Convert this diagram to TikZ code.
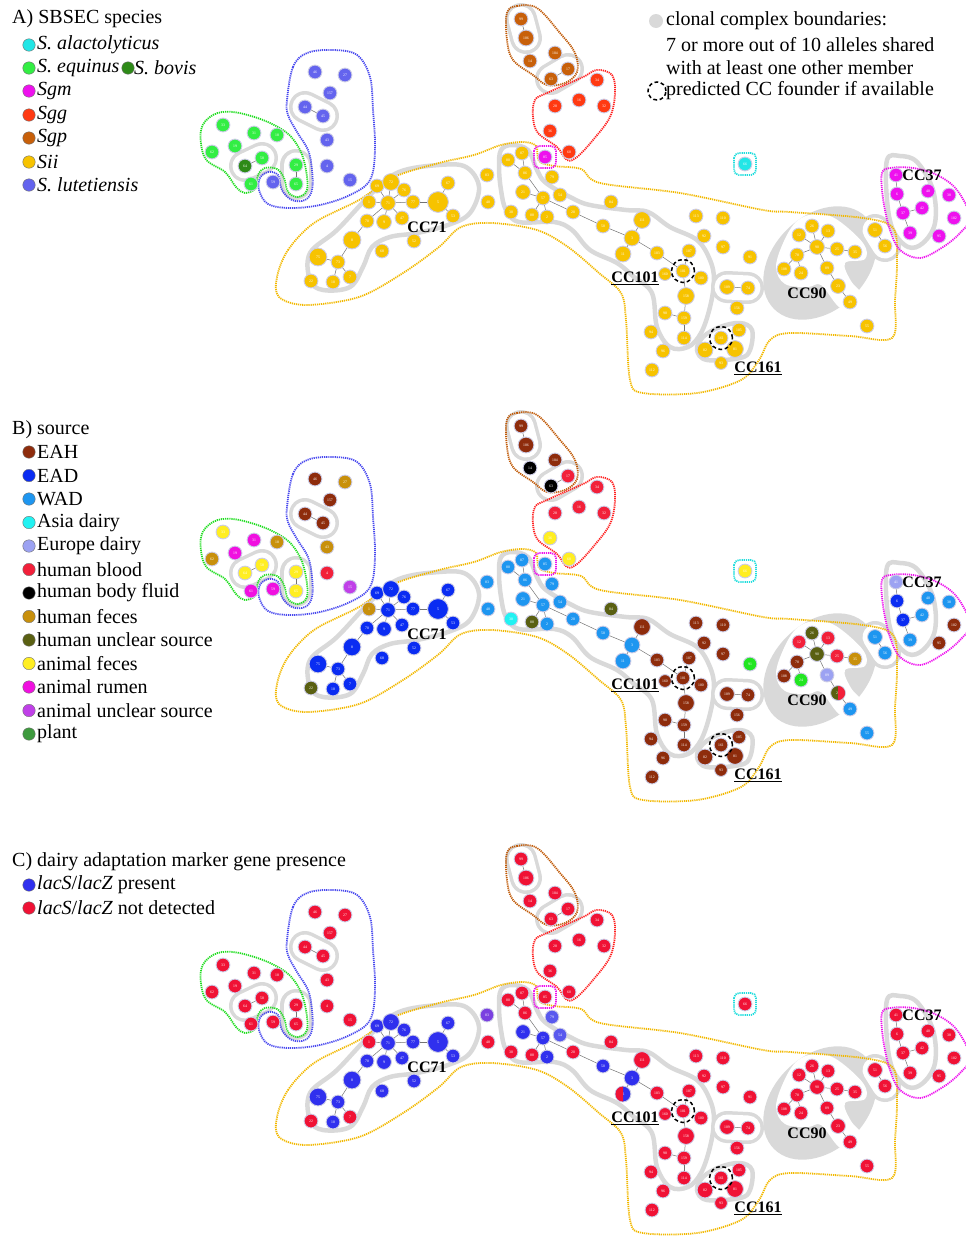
\documentclass[tikz,border=0pt]{standalone}
\usepackage{fontspec}
\setmainfont{Liberation Serif}
\usetikzlibrary{backgrounds}
% species colours
\definecolor{Sal}{HTML}{22E6E6}
\definecolor{Seq}{HTML}{33EE44}
\definecolor{Sbo}{HTML}{2E8A18}
\definecolor{Sgm}{HTML}{EE11EE}
\definecolor{Sgg}{HTML}{FF3A12}
\definecolor{Sgp}{HTML}{C8600A}
\definecolor{Sii}{HTML}{F7C300}
\definecolor{Slu}{HTML}{6464EE}
% source colours
\definecolor{EAH}{HTML}{8E2C0C}
\definecolor{EAD}{HTML}{0A2CF2}
\definecolor{WAD}{HTML}{1E96F0}
\definecolor{ASD}{HTML}{22F2F2}
\definecolor{EUD}{HTML}{9CA2F2}
\definecolor{HBL}{HTML}{F2203A}
\definecolor{HBF}{HTML}{000000}
\definecolor{HFE}{HTML}{C8900C}
\definecolor{HUN}{HTML}{5A6012}
\definecolor{AFE}{HTML}{FFEE22}
\definecolor{ARU}{HTML}{F010E0}
\definecolor{AUN}{HTML}{C040E8}
\definecolor{PLA}{HTML}{3E9A3E}
\definecolor{BGR}{HTML}{22E622}
% lacS colours
\definecolor{PRE}{HTML}{3030EE}
\definecolor{PRL}{HTML}{5858EE}
\definecolor{PUR}{HTML}{7A40E0}
\definecolor{NDT}{HTML}{F01235}
% outlines
\definecolor{oGr}{HTML}{22DD22}
\definecolor{oBl}{HTML}{4848EE}
\definecolor{oBr}{HTML}{C05A08}
\definecolor{oRd}{HTML}{FF2222}
\definecolor{oYe}{HTML}{F2B800}
\definecolor{oMa}{HTML}{EE11EE}
\definecolor{oCy}{HTML}{22DDDD}
\definecolor{ringc}{HTML}{D9D9D9}
\definecolor{ndb}{HTML}{CCCCE6}

\tikzset{
  nd/.style={circle, draw=ndb, line width=0.9pt, inner sep=0pt, text=white,
    font=\fontsize{3.8}{3.8}\selectfont},
  edge/.style={draw=black!55, line width=0.5pt},
  outl/.style={line width=1.8pt, dash pattern=on 1.2pt off 0.9pt},
  ring/.style={draw=ringc, line width=4.5pt},
  founder/.style={circle, draw=black, line width=1.5pt, dash pattern=on 3.8pt off 2.6pt,
    minimum size=23pt, inner sep=0pt},
  cclab/.style={font=\fontsize{16}{16}\selectfont\bfseries, inner sep=0pt},
  leg/.style={anchor=west, font=\fontsize{20}{20}\selectfont, inner sep=0pt},
  legc/.style={circle, draw=black!55, line width=0.4pt, minimum size=12.5pt, inner sep=0pt},
}

\newcount\pnl
\newcommand\ND[7]{%
  \ifcase\pnl\or\def\ncol{#5}\or\def\ncol{#6}\else\def\ncol{#7}\fi
  \node[nd, minimum size={2*#4pt+0.8pt}, fill=\ncol] (p\the\pnl-#1) at (#2,#3) {#1};}
\newcommand\caps[4]{%
  \draw[ringc, line width=32pt, line cap=round] (#1,#2) -- (#3,#4);
  \draw[white, line width=25pt, line cap=round] (#1,#2) -- (#3,#4);}

\newcommand\allblobs{%
  \fill[ringc, rotate around={45:(820,263)}] (820,263) ellipse [x radius=65, y radius=47];
  \fill[white] plot[smooth cycle, tension=0.6] coordinates {(797,221) (815,214) (836,219) (863,243) (865,259) (845,263) (851,281) (864,297) (857,313) (839,307) (821,285) (808,287) (785,284) (776,267) (784,241)};
  \draw[ring] plot[smooth cycle, tension=0.6] coordinates {(310,253) (337,230) (372,193) (399,172) (439,165) (466,167) (479,187) (470,213) (448,225) (417,233) (390,237) (372,247) (363,267) (350,287) (323,290) (310,280)};
  \draw[ring] plot[smooth cycle, tension=0.6] coordinates {(501,150) (512,145) (528,150) (537,170) (546,183) (572,198) (590,205) (626,210) (648,212) (670,227) (697,240) (710,260) (714,280) (710,307) (701,333) (688,347) (670,347) (657,327) (652,293) (634,277) (617,263) (590,250) (572,230) (554,222) (519,222) (506,210) (501,190) (499,167)};
  \draw[ring] plot[smooth cycle, tension=0.6] coordinates {(697,350) (703,337) (720,327) (740,323) (752,330) (750,350) (740,358) (707,360)};
  \draw[ring] plot[smooth cycle, tension=0.6] coordinates {(887,160) (900,156) (917,162) (933,190) (935,223) (923,243) (908,247) (893,230) (887,200)};
  \caps{305}{107}{323}{116}
  \caps{262}{158}{245}{166}
  \caps{296}{165}{296}{184}
  \caps{521}{19}{526}{38}
  \caps{551}{79}{568}{69}
  \caps{875}{230}{885}{246}
  \caps{727}{287}{748}{288}
}

\newcommand\alloutlines{%
  \draw[outl, oGr] plot[smooth cycle, tension=0.6] coordinates {(201,130) (213,115) (233,112) (263,120) (287,133) (300,150) (306,170) (307,190) (298,197) (288,192) (284,178) (277,169) (265,168) (258,175) (256,188) (245,193) (236,187) (225,172) (205,158)};
  \draw[outl, oBl] plot[smooth cycle, tension=0.6] coordinates {(287,100) (293,67) (307,53) (333,50) (357,55) (370,77) (373,110) (375,150) (370,180) (350,195) (320,205) (290,208) (268,204) (259,190) (260,178) (268,172) (278,175) (282,190) (292,200) (305,200) (312,190) (312,170) (308,150) (297,132) (288,115)};
  \draw[outl, oBr] plot[smooth cycle, tension=0.6] coordinates {(507,13) (517,6) (537,8) (560,33) (575,53) (577,72) (565,83) (547,85) (533,75) (513,60) (507,40)};
  \draw[outl, oRd] plot[smooth cycle, tension=0.6] coordinates {(535,100) (547,93) (583,77) (597,70) (612,75) (615,93) (610,117) (593,140) (577,157) (567,160) (557,147) (538,133) (533,117)};
  \draw[outl, oYe] plot[smooth cycle, tension=0.55] coordinates {(277,277) (288,250) (314,223) (359,200) (394,177) (439,163) (474,155) (501,145) (523,142) (536,146) (539,161) (554,166) (581,169) (600,183) (680,193) (763,210) (790,212) (863,218) (893,228) (897,260) (895,300) (892,338) (850,336) (790,333) (770,340) (759,360) (741,380) (697,393) (643,393) (630,380) (626,320) (621,293) (599,273) (568,247) (537,230) (492,223) (461,227) (439,247) (403,273) (359,297) (306,305) (279,297)};
  \draw[outl, oMa] plot[smooth cycle, tension=0.6] coordinates {(882,173) (890,168) (913,168) (937,175) (957,190) (970,217) (960,233) (943,247) (920,258) (900,250) (890,230) (885,210) (882,190)};
  \draw[outl, oMa, rounded corners=5pt] (534,146) rectangle (556,168);
  \draw[outl, oCy, rounded corners=5pt] (734,153) rectangle (756,175);
}

\newcommand\allnodes{%
  % S. equinus / S. bovis group
  \ND{33}{223}{125}{6.5}{Seq}{AFE}{NDT}
  \ND{31}{254}{133}{6.5}{Seq}{ARU}{NDT}
  \ND{18}{277}{135}{6.5}{Seq}{HFE}{NDT}
  \ND{19}{235}{146}{6.5}{Seq}{ARU}{NDT}
  \ND{62}{212}{152}{6.5}{Seq}{HFE}{NDT}
  \ND{58}{262}{158}{6.5}{Seq}{AFE}{NDT}
  \ND{64}{245}{166}{6.5}{Sbo}{AFE}{NDT}
  \ND{29}{296}{165}{6.5}{Seq}{AFE}{NDT}
  \ND{61}{251}{184}{6.5}{Seq}{ARU}{NDT}
  \ND{59}{273}{182}{6.5}{Slu}{ARU}{NDT}
  \ND{65}{296}{184}{6.5}{Seq}{AFE}{NDT}
  % S. lutetiensis group
  \ND{46}{315}{72}{6.5}{Slu}{EAH}{NDT}
  \ND{27}{345}{75}{6.5}{Slu}{HFE}{NDT}
  \ND{157}{330}{93}{6.5}{Slu}{EAH}{NDT}
  \ND{44}{305}{107}{6.5}{Slu}{EAH}{NDT}
  \ND{45}{323}{116}{6.5}{Slu}{EAH}{NDT}
  \ND{43}{327}{140}{6.5}{Slu}{HFE}{NDT}
  \ND{4}{327}{166}{6.5}{Slu}{HBL}{NDT}
  \ND{15}{350}{180}{6.5}{Slu}{AUN}{NDT}
  % Sgp
  \ND{99}{521}{19}{6.5}{Sgp}{EAH}{NDT}
  \ND{106}{526}{38}{7.5}{Sgp}{EAH}{NDT}
  \ND{14}{530}{61}{6.5}{Sgp}{HBF}{NDT}
  \ND{104}{555}{53}{6.5}{Sgp}{EAH}{NDT}
  \ND{17}{568}{69}{6.5}{Sgp}{HBL}{NDT}
  \ND{63}{551}{79}{6.5}{Sgp}{HBF}{NDT}
  % Sgg
  \ND{34}{597}{80}{6.5}{Sgg}{HBL}{NDT}
  \ND{28}{555}{106}{6.5}{Sgg}{HBL}{NDT}
  \ND{16}{579}{100}{6.5}{Sgg}{HBL}{NDT}
  \ND{32}{604}{106}{6.5}{Sgg}{HBL}{NDT}
  \ND{36}{550}{131}{6.5}{Sgg}{AFE}{NDT}
  \ND{60}{569}{152}{6.5}{Sgg}{AFE}{NDT}
  \ND{85}{545}{157}{6.5}{Sgm}{WAD}{NDT}
  \ND{66}{745}{164}{6.5}{Sal}{AFE}{NDT}
  % CC71
  \ND{69}{377}{186}{6.5}{Sii}{EAD}{PRE}
  \ND{72}{391}{182}{8}{Sii}{EAD}{PRE}
  \ND{76}{404}{190}{6.5}{Sii}{EAD}{PRE}
  \ND{1}{369}{202}{6.5}{Sii}{HFE}{NDT}
  \ND{71}{388}{203}{7}{Sii}{EAD}{PRE}
  \ND{77}{413}{202}{6.5}{Sii}{EAD}{PRE}
  \ND{5}{438}{202}{10}{Sii}{EAD}{PRE}
  \ND{67}{448}{183}{6.5}{Sii}{EAD}{PRE}
  \ND{53}{453}{216}{6.5}{Sii}{EAD}{PRE}
  \ND{70}{367}{221}{6.5}{Sii}{EAD}{PRE}
  \ND{9}{384}{222}{7}{Sii}{EAD}{PRE}
  \ND{47}{402}{218}{6.5}{Sii}{EAD}{PRE}
  \ND{8}{352}{240}{8.5}{Sii}{EAD}{PRE}
  \ND{52}{414}{241}{6.5}{Sii}{EAD}{PRE}
  \ND{68}{382}{251}{6.5}{Sii}{EAD}{PRE}
  \ND{75}{318}{257}{8.5}{Sii}{EAD}{PRE}
  \ND{73}{338}{262}{6.5}{Sii}{EAD}{PRE}
  \ND{7}{350}{277}{6.5}{Sii}{EAD}{NDT}
  \ND{10}{333}{282}{6.5}{Sii}{EAD}{PRE}
  \ND{22}{311}{281}{6.5}{Sii}{HUN}{NDT}
  % middle
  \ND{83}{487}{175}{6.5}{Sii}{WAD}{PUR}
  \ND{48}{488}{202}{6.5}{Sii}{WAD}{NDT}
  \ND{30}{511}{212}{6.5}{Sii}{ASD}{NDT}
  \ND{80}{508}{160}{6.5}{Sii}{WAD}{NDT}
  \ND{87}{522}{153}{6.5}{Sii}{WAD}{NDT}
  \ND{86}{525}{173}{6.5}{Sii}{WAD}{NDT}
  \ND{79}{552}{177}{6.5}{Sii}{WAD}{PRL}
  \ND{21}{523}{192}{7}{Sii}{WAD}{PRE}
  \ND{57}{543}{198}{6.5}{Sii}{WAD}{PRE}
  \ND{54}{560}{195}{6.5}{Sii}{WAD}{PRL}
  \ND{88}{532}{215}{6.5}{Sii}{HUN}{NDT}
  \ND{2}{547}{217}{6.5}{Sii}{WAD}{PRE}
  \ND{20}{573}{212}{6.5}{Sii}{WAD}{NDT}
  \ND{84}{611}{202}{6.5}{Sii}{HUN}{NDT}
  \ND{50}{603}{226}{6.5}{Sii}{WAD}{PRE}
  % CC101 area
  \ND{111}{642}{220}{8}{Sii}{EAH}{NDT}
  \ND{3}{632}{238}{7.5}{Sii}{WAD}{PRE}
  \ND{11}{623}{254}{7.5}{Sii}{WAD}{PRE}
  \ND{103}{657}{253}{6.5}{Sii}{EAH}{NDT}
  \ND{113}{696}{216}{6.5}{Sii}{EAH}{NDT}
  \ND{110}{723}{218}{6.5}{Sii}{EAH}{NDT}
  \ND{92}{704}{236}{6.5}{Sii}{EAH}{NDT}
  \ND{97}{723}{247}{6.5}{Sii}{EAH}{NDT}
  \ND{91}{750}{257}{6.5}{Sii}{BGR}{NDT}
  \ND{107}{689}{251}{6.5}{Sii}{EAH}{NDT}
  \ND{101}{683}{271}{6.5}{Sii}{EAH}{NDT}
  \ND{160}{665}{274}{6}{Sii}{EAH}{NDT}
  \ND{100}{701}{278}{6.5}{Sii}{EAH}{NDT}
  \ND{158}{686}{296}{8}{Sii}{EAH}{NDT}
  \ND{98}{665}{313}{6.5}{Sii}{EAH}{NDT}
  \ND{159}{684}{318}{6.5}{Sii}{EAH}{NDT}
  \ND{114}{684}{338}{6.5}{Sii}{EAH}{NDT}
  \ND{94}{651}{332}{6.5}{Sii}{EAH}{NDT}
  \ND{96}{663}{351}{6.5}{Sii}{EAH}{NDT}
  \ND{112}{652}{370}{6.5}{Sii}{EAH}{NDT}
  \ND{109}{727}{287}{7}{Sii}{EAH}{NDT}
  \ND{74}{748}{288}{6.5}{Sii}{EAH}{NDT}
  \ND{156}{737}{308}{6.5}{Sii}{EAH}{NDT}
  \ND{161}{721}{338}{6.5}{Sii}{EAH}{NDT}
  \ND{105}{739}{330}{6.5}{Sii}{EAH}{NDT}
  \ND{82}{705}{350}{7.5}{Sii}{EAH}{NDT}
  \ND{81}{735}{349}{8}{Sii}{EAH}{NDT}
  \ND{93}{721}{363}{6}{Sii}{EAH}{NDT}
  % CC90
  \ND{26}{812}{226}{6.5}{Sii}{HUN}{NDT}
  \ND{13}{828}{231}{6.5}{Sii}{HBL}{NDT}
  \ND{12}{799}{235}{6.5}{Sii}{HBL}{NDT}
  \ND{90}{817}{247}{7}{Sii}{HUN}{NDT}
  \ND{25}{837}{249}{6.5}{Sii}{HBL}{NDT}
  \ND{35}{855}{252}{6.5}{Sii}{HFE}{NDT}
  \ND{78}{797}{255}{6.5}{Sii}{EAH}{NDT}
  \ND{108}{784}{269}{6.5}{Sii}{EAH}{NDT}
  \ND{24}{801}{273}{6.5}{Sii}{BGR}{NDT}
  \ND{89}{827}{268}{6.5}{Sii}{EUD}{NDT}
  \ND{23}{838}{286}{7}{Sii}{HUN}{NDT}
  \ND{49}{850}{302}{6.5}{Sii}{WAD}{NDT}
  \ND{51}{875}{230}{7}{Sii}{WAD}{NDT}
  \ND{56}{885}{246}{6.5}{Sii}{WAD}{NDT}
  \ND{55}{867}{326}{6.5}{Sii}{WAD}{NDT}
  % CC37
  \ND{41}{896}{175}{6.5}{Sgm}{EUD}{NDT}
  \ND{6}{897}{194}{6.5}{Sgm}{EAD}{NDT}
  \ND{40}{928}{191}{6.5}{Sgm}{WAD}{NDT}
  \ND{38}{949}{195}{6.5}{Sgm}{WAD}{NDT}
  \ND{37}{903}{213}{6.5}{Sgm}{EAD}{NDT}
  \ND{42}{922}{208}{6.5}{Sgm}{WAD}{NDT}
  \ND{102}{954}{218}{6.5}{Sgm}{EAH}{NDT}
  \ND{39}{910}{233}{6.5}{Sgm}{WAD}{NDT}
  \ND{95}{939}{236}{6.5}{Sgm}{EAH}{NDT}
}

\newcommand\alledges{%
  \foreach \a/\b in {44/45,58/64,29/65,99/106,63/17,
    71/69,71/72,71/76,71/1,71/77,77/5,5/67,5/53,71/9,71/47,71/70,70/8,8/73,73/75,73/10,73/7,
    80/86,87/86,86/57,21/57,57/88,57/2,57/20,20/50,50/3,3/111,3/11,3/103,103/101,101/107,
    101/158,158/159,159/98,159/114,109/74,
    90/26,90/13,90/12,90/25,25/35,90/78,78/108,78/24,90/89,89/23,23/49,51/56,
    41/6,6/37,37/42,37/39}
    {\draw[edge] (p\the\pnl-\a) -- (p\the\pnl-\b);}
}

\newcommand\alllabels{%
  \node[founder] (p\the\pnl-f101) at (p\the\pnl-101.center) {};
  \node[founder] (p\the\pnl-f161) at (p\the\pnl-161.center) {};
  \node[cclab] (p\the\pnl-cc71) at (427,227) {CC71};
  \node[cclab] (p\the\pnl-cc101) at (635,278) {\underline{CC101}};
  \node[cclab] (p\the\pnl-cc90) at (807,293) {CC90};
  \node[cclab] (p\the\pnl-cc161) at (758,368) {\underline{CC161}};
  \node[cclab] (p\the\pnl-cc37) at (922,175) {CC37};
}

\newcommand\panel[2]{%
  \global\pnl=#1\relax
  \begin{scope}[shift={(0,#2)}]
    \begin{scope}[on background layer]\allblobs\end{scope}
    \alloutlines
    \allnodes
    \alledges
    \alllabels
  \end{scope}}

\begin{document}
\begin{tikzpicture}[x=1pt,y=-1pt]
\useasboundingbox (0,0) rectangle (966,1237);

\panel{1}{0}
\panel{2}{407}
\panel{3}{840}

% split nodes
\fill[HBL] (p2-23.center) ++(0,-7) arc[start angle=-90, delta angle=180, radius=7] -- cycle;
\fill[NDT] (p3-11.center) ++(0,7.5) arc[start angle=90, delta angle=180, radius=7.5] -- cycle;

% ---------- legend A ----------
\node[leg] (tA) at (12,19) {A) SBSEC species};
\node[legc, fill=Sal] (la1) at (29,45) {};
\node[leg] (ta1) at (37,45) {\textit{S. alactolyticus}};
\node[legc, fill=Seq] (la2) at (29,68) {};
\node[leg] (ta2) at (37,68) {\textit{S. equinus}};
\node[legc, fill=Sbo] (la2b) at (128,68) {};
\node[leg] (ta2b) at (134,68) {\textit{S. bovis}};
\node[legc, fill=Sgm] (la3) at (29,91) {};
\node[leg] (ta3) at (37,91) {\textit{Sgm}};
\node[legc, fill=Sgg] (la4) at (29,115) {};
\node[leg] (ta4) at (37,115) {\textit{Sgg}};
\node[legc, fill=Sgp] (la5) at (29,138) {};
\node[leg] (ta5) at (37,138) {\textit{Sgp}};
\node[legc, fill=Sii] (la6) at (29,162) {};
\node[leg] (ta6) at (37,162) {\textit{Sii}};
\node[legc, fill=Slu] (la7) at (29,185) {};
\node[leg] (ta7) at (37,185) {\textit{S. lutetiensis}};

\node[circle, fill=ringc, minimum size=14pt, inner sep=0pt] (lg1) at (656,21) {};
\node[leg] (tg1) at (666,21) {clonal complex boundaries:};
\node[leg] (tg2) at (666,45) {7 or more out of 10 alleles shared};
\node[leg] (tg3) at (666,68) {with at least one other member};
\node[founder, minimum size=18pt] (lg4) at (657,91) {};
\node[leg] (tg4) at (666,91) {predicted CC founder if available};

% ---------- legend B ----------
\node[leg] (tB) at (12,430) {B) source};
\foreach \c/\t [count=\i] in {EAH/EAH, EAD/EAD, WAD/WAD, ASD/Asia dairy, EUD/Europe dairy,
   HBL/human blood, HBF/human body fluid, HFE/human feces, HUN/human unclear source,
   AFE/animal feces, ARU/animal rumen, AUN/animal unclear source, PLA/plant}{
  \node[legc, fill=\c] (lb\i) at (29,{428.5+23.5*\i}) {};
  \node[leg] (tb\i) at (37,{428.5+23.5*\i}) {\t};
}

% ---------- legend C ----------
\node[leg] (tC) at (12,862) {C) dairy adaptation marker gene presence};
\node[legc, fill=PRE] (lc1) at (29,885) {};
\node[leg] (tc1) at (37,885) {\textit{lacS}/\textit{lacZ} present};
\node[legc, fill=NDT] (lc2) at (29,908) {};
\node[leg] (tc2) at (37,908) {\textit{lacS}/\textit{lacZ} not detected};
\end{tikzpicture}
\end{document}
